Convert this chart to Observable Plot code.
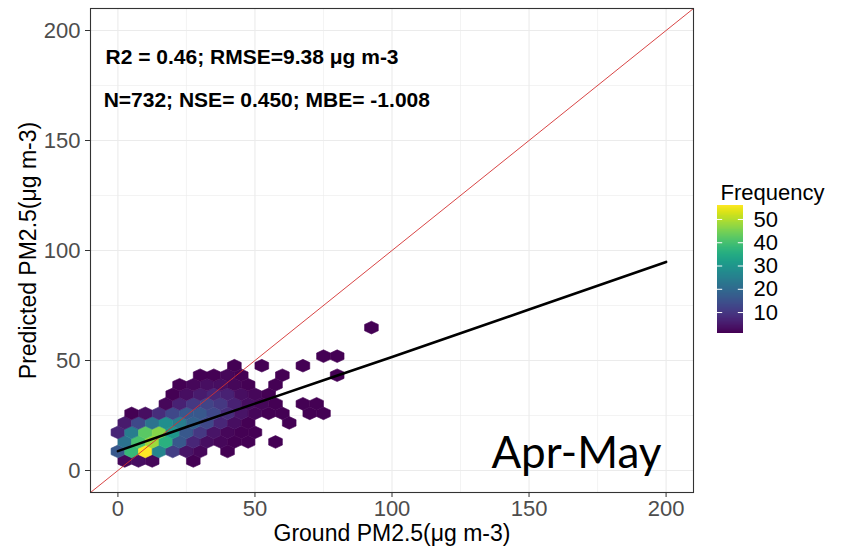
<!DOCTYPE html>
<html><head><meta charset="utf-8">
<script src="https://cdn.jsdelivr.net/npm/d3@7"></script>
<script src="https://cdn.jsdelivr.net/npm/@observablehq/plot@0.6"></script>
<style>
html,body{margin:0;padding:0;background:#fff;}
#wrap{position:relative;width:847px;height:554px;overflow:hidden;background:#fff;}
#legend{position:absolute;left:700px;top:150px;}
</style></head><body>
<div id="wrap"><div id="main"></div><div id="legend"></div></div>
<script>
// ---- data (hexbin centres in data units, counts) ----
const hexX = [
  2.5,7.5,12.5,27.5,
  0,5,10,15,20,25,30,40,
  2.5,7.5,12.5,17.5,22.5,27.5,32.5,37.5,42.5,47.5,57.5,
  0,5,10,15,20,25,30,35,40,45,50,
  2.5,7.5,12.5,17.5,22.5,27.5,32.5,37.5,42.5,47.5,62.5,
  5,10,15,20,25,30,35,40,45,50,55,60,70,75,
  17.5,22.5,27.5,32.5,37.5,42.5,47.5,52.5,57.5,67.5,72.5,
  20,25,30,35,40,45,50,55,
  22.5,27.5,32.5,37.5,42.5,47.5,57.5,
  30,35,40,45,60,80,
  42.5,52.5,67.5,
  75,80,
  92.5
];
const hexY = [
  4.33,4.33,4.33,4.33,
  8.66,8.66,8.66,8.66,8.66,8.66,8.66,8.66,
  12.99,12.99,12.99,12.99,12.99,12.99,12.99,12.99,12.99,12.99,12.99,
  17.32,17.32,17.32,17.32,17.32,17.32,17.32,17.32,17.32,17.32,17.32,
  21.65,21.65,21.65,21.65,21.65,21.65,21.65,21.65,21.65,21.65,21.65,
  25.98,25.98,25.98,25.98,25.98,25.98,25.98,25.98,25.98,25.98,25.98,25.98,25.98,25.98,
  30.31,30.31,30.31,30.31,30.31,30.31,30.31,30.31,30.31,30.31,30.31,
  34.64,34.64,34.64,34.64,34.64,34.64,34.64,34.64,
  38.97,38.97,38.97,38.97,38.97,38.97,38.97,
  43.30,43.30,43.30,43.30,43.30,43.30,
  47.63,47.63,47.63,
  51.96,51.96,
  64.95
];
const hexN = [
  2,3,2,1,
  16,38,56,26,11,4,2,1,
  22,40,48,36,16,7,3,2,1,1,1,
  7,24,42,46,30,16,10,4,2,1,1,
  5,13,22,28,24,18,13,7,3,1,1,
  1,3,8,13,16,16,13,8,4,2,1,1,1,1,
  2,6,10,12,10,6,3,2,1,1,1,
  1,3,5,7,6,3,2,1,
  1,2,3,3,2,1,1,
  1,1,2,1,1,1,
  1,1,1,
  1,1,
  1
];
const fitX = [0, 25, 50, 75, 100, 125, 150, 175, 200];
const fitY = [8.8, 19.8, 30.4, 41.0, 51.6, 62.4, 73.2, 84.0, 94.8];
const axisDomain = [-10, 210];
const xTicks = [0, 50, 100, 150, 200];
const yTicks = [0, 50, 100, 150, 200];
const minorTicks = [25, 75, 125, 175];
const legendTicks = [10, 20, 30, 40, 50];
const countRange = [1, 56];
const binWidth = 5;
const xTitle = "Ground PM2.5(μg m-3)";
const yTitle = "Predicted PM2.5(μg m-3)";
const legendTitle = "Frequency";
const statsLines = ["R2 = 0.46; RMSE=9.38 μg m-3", "N=732; NSE= 0.450; MBE= -1.008"];
const periodLabel = "Apr-May";

// ---- layout ----
const W = 847, H = 554, mL = 90, mR = 154, mT = 8, mB = 62;
const kx = (W - mL - mR) / (axisDomain[1] - axisDomain[0]);
const ky = (H - mT - mB) / (axisDomain[1] - axisDomain[0]);
const hw = binWidth / 2 * kx;
const hh = binWidth / Math.sqrt(3) * ky;
const hexSymbol = {
  draw(ctx) {
    ctx.moveTo(0, -hh); ctx.lineTo(hw, -hh / 2); ctx.lineTo(hw, hh / 2);
    ctx.lineTo(0, hh); ctx.lineTo(-hw, hh / 2); ctx.lineTo(-hw, -hh / 2); ctx.closePath();
  }
};
const hexes = hexX.map((x, i) => ({x, y: hexY[i], n: hexN[i]}));
const fit = fitX.map((x, i) => ({x, y: fitY[i]}));
const colorOpts = {type: "linear", scheme: "viridis", domain: countRange};
const font = "'Liberation Sans', Arial, sans-serif";

const main = Plot.plot({
  width: W, height: H, marginLeft: mL, marginRight: mR, marginTop: mT, marginBottom: mB,
  style: {fontFamily: font, background: "#fff", color: "#000"},
  x: {domain: axisDomain}, y: {domain: axisDomain},
  color: colorOpts,
  marks: [
    Plot.gridX(minorTicks, {stroke: "#ebebeb", strokeOpacity: 1, strokeWidth: 0.6}),
    Plot.gridY(minorTicks, {stroke: "#ebebeb", strokeOpacity: 1, strokeWidth: 0.6}),
    Plot.gridX(xTicks, {stroke: "#ebebeb", strokeOpacity: 1, strokeWidth: 1.1}),
    Plot.gridY(yTicks, {stroke: "#ebebeb", strokeOpacity: 1, strokeWidth: 1.1}),
    Plot.dot(hexes, {x: "x", y: "y", fill: "n", stroke: "n", strokeWidth: 0.6, symbol: hexSymbol, r: 1}),
    Plot.line(axisDomain, {x: d => d, y: d => d, stroke: "#d43030", strokeWidth: 0.9}),
    Plot.line(fit, {x: "x", y: "y", stroke: "#000", strokeWidth: 2.6}),
    Plot.frame({stroke: "#333333", strokeWidth: 1.1}),
    Plot.axisX(xTicks, {tickSize: 5, tickPadding: 3, fontSize: 22, color: "#4d4d4d", stroke: "#333333", label: null}),
    Plot.axisY(yTicks, {tickSize: 5, tickPadding: 5, fontSize: 22, color: "#4d4d4d", stroke: "#333333", label: null}),
    Plot.text([xTitle], {text: d => d, frameAnchor: "bottom", dy: 48, fontSize: 23, fill: "#000"}),
    Plot.text([yTitle], {text: d => d, frameAnchor: "left", textAnchor: "middle", dx: -62, rotate: -90, fontSize: 23, fill: "#000"}),
    Plot.text([statsLines[0]], {text: d => d, x: -4.5, y: 187.7, textAnchor: "start", fontWeight: "bold", fontSize: 21, fill: "#000"}),
    Plot.text([statsLines[1]], {text: d => d, x: -5.2, y: 168.2, textAnchor: "start", fontWeight: "bold", fontSize: 21, fill: "#000"}),
    Plot.text([periodLabel], {text: d => d, x: 198.3, y: 7.6, textAnchor: "end", fontSize: 44, fontFamily: "Lato", fill: "#000"})
  ]
});
document.getElementById("main").append(main);

// ---- legend (vertical colour bar) ----
const legTop = 150, barTop = 205, barBottom = 333, barW = 26, legW = 147;
const ramp = d3.range(countRange[0], countRange[1], 0.25);
const legend = Plot.plot({
  width: legW, height: barBottom - legTop + 20,
  marginTop: barTop - legTop, marginBottom: 20, marginLeft: 17, marginRight: legW - 17 - barW,
  style: {fontFamily: font, background: "transparent", color: "#000", overflow: "visible"},
  x: {domain: [0, 1], axis: null}, y: {domain: countRange, axis: null},
  color: colorOpts,
  marks: [
    Plot.rect(ramp, {x1: 0, x2: 1, y1: d => d, y2: d => Math.min(d + 0.6, countRange[1]), fill: d => d, shapeRendering: "crispEdges"}),
    Plot.ruleY(legendTicks, {y: d => d, x1: 0, x2: 0.2, stroke: "#fff", strokeWidth: 1}),
    Plot.ruleY(legendTicks, {y: d => d, x1: 0.8, x2: 1, stroke: "#fff", strokeWidth: 1}),
    Plot.text(legendTicks, {x: 1, y: d => d, text: d => String(d), dx: 10, textAnchor: "start", fontSize: 22, fill: "#000"}),
    Plot.text([legendTitle], {text: d => d, frameAnchor: "top-left", dx: 3, dy: -21, textAnchor: "start", fontSize: 22, fill: "#000"})
  ]
});
document.getElementById("legend").append(legend);
</script>
</body></html>
